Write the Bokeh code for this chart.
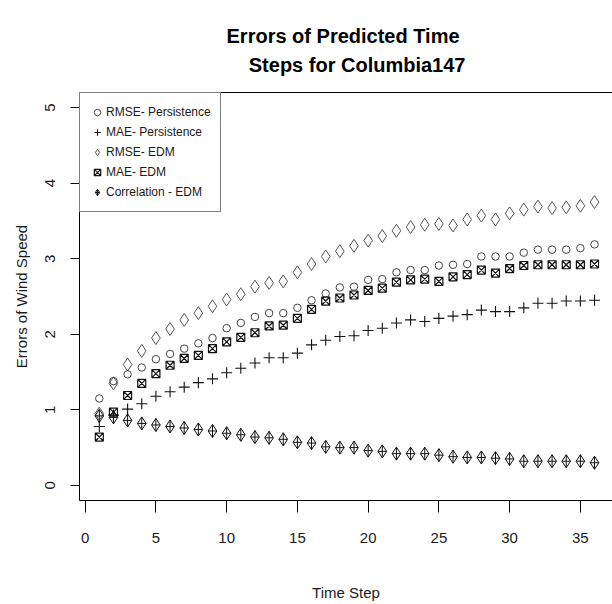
from bokeh.plotting import figure
from bokeh.models import (Legend, LegendItem, FixedTicker, LinearAxis, Title,
                          Range1d, ColumnDataSource)
from bokeh.embed import file_html
from bokeh.resources import INLINE

time_step = list(range(1, 37))
rmse_persistence = [1.15, 1.38, 1.47, 1.56, 1.67, 1.74, 1.81, 1.88, 1.95, 2.08, 2.15, 2.23,
                    2.28, 2.28, 2.35, 2.45, 2.54, 2.62, 2.63, 2.72, 2.73, 2.82, 2.85, 2.85,
                    2.91, 2.92, 2.93, 3.03, 3.03, 3.03, 3.08, 3.12, 3.12, 3.12, 3.14, 3.19]
mae_persistence = [0.78, 0.93, 1.01, 1.08, 1.18, 1.24, 1.30, 1.36, 1.41, 1.49, 1.55, 1.62,
                   1.69, 1.69, 1.75, 1.86, 1.92, 1.97, 1.98, 2.05, 2.08, 2.15, 2.19, 2.17,
                   2.21, 2.24, 2.26, 2.32, 2.30, 2.30, 2.35, 2.41, 2.41, 2.44, 2.44, 2.45]
rmse_edm = [0.95, 1.35, 1.60, 1.78, 1.95, 2.07, 2.19, 2.28, 2.37, 2.46, 2.53, 2.63,
            2.68, 2.70, 2.82, 2.93, 3.03, 3.10, 3.17, 3.24, 3.30, 3.37, 3.42, 3.45,
            3.46, 3.44, 3.52, 3.57, 3.52, 3.60, 3.65, 3.69, 3.67, 3.68, 3.70, 3.75]
mae_edm = [0.64, 0.97, 1.19, 1.35, 1.48, 1.59, 1.68, 1.72, 1.81, 1.90, 1.96, 2.02,
           2.11, 2.12, 2.21, 2.33, 2.44, 2.48, 2.52, 2.58, 2.61, 2.69, 2.72, 2.73,
           2.70, 2.76, 2.79, 2.85, 2.81, 2.87, 2.91, 2.92, 2.92, 2.92, 2.92, 2.93]
corr_edm = [0.92, 0.90, 0.86, 0.82, 0.80, 0.78, 0.76, 0.74, 0.72, 0.69, 0.67, 0.64,
            0.63, 0.61, 0.57, 0.56, 0.51, 0.50, 0.50, 0.46, 0.45, 0.42, 0.42, 0.42,
            0.40, 0.38, 0.37, 0.37, 0.36, 0.35, 0.32, 0.32, 0.32, 0.32, 0.32, 0.30]
series_labels = ["RMSE- Persistence", "MAE- Persistence", "RMSE- EDM", "MAE- EDM",
                 "Correlation - EDM"]
x_ticks = [0, 5, 10, 15, 20, 25, 30, 35]
y_ticks = [0, 1, 2, 3, 4, 5]
title_lines = ["Errors of Predicted Time", "\u00a0\u00a0\u00a0\u00a0Steps for Columbia147"]

FONT = "Liberation Sans"

src = ColumnDataSource(dict(t=time_step, rp=rmse_persistence, mp=mae_persistence,
                            re=rmse_edm, me=mae_edm, ce=corr_edm))

p = figure(width=612, height=604, output_backend="svg", toolbar_location=None,
           title=None, x_range=Range1d(-0.4, 37.27), y_range=Range1d(-0.2, 5.2),
           min_border_left=79, min_border_right=0, min_border_top=92,
           min_border_bottom=104)
p.grid.visible = False
p.outline_line_color = None
p.background_fill_color = "white"
p.border_fill_color = "white"

for ax in (p.xaxis[0], p.yaxis[0]):
    ax.axis_line_color = "black"
    ax.major_tick_line_color = "black"
    ax.minor_tick_line_color = None
    ax.major_tick_in = 0
    ax.major_label_text_font = FONT
    ax.major_label_text_font_size = "15px"
    ax.major_label_text_color = "#1a1a1a"
    ax.axis_label_text_font = FONT
    ax.axis_label_text_font_size = "15px"
    ax.axis_label_text_font_style = "normal"
    ax.axis_label_text_color = "#1a1a1a"

p.xaxis.ticker = FixedTicker(ticks=x_ticks)
p.xaxis.major_tick_out = 12
p.xaxis.major_label_standoff = 20
p.xaxis.axis_label = "Time Step"
p.xaxis.axis_label_standoff = 38

p.yaxis.ticker = FixedTicker(ticks=y_ticks)
p.yaxis.major_tick_out = 9
p.yaxis.major_label_orientation = "vertical"
p.yaxis.major_label_standoff = 15
p.yaxis.axis_label = "Errors of Wind Speed"
p.yaxis.axis_label_standoff = 13

# top edge of the box (no ticks)
top_axis = LinearAxis(ticker=FixedTicker(ticks=[]), axis_line_color="black",
                      major_tick_out=0, major_tick_in=0, minor_tick_out=0,
                      minor_tick_in=0, major_label_standoff=0,
                      major_tick_line_color=None, minor_tick_line_color=None,
                      major_label_text_font_size="0px")
p.add_layout(top_axis, "above")

title = Title(text="\n".join(title_lines), align="center", text_font=FONT,
              text_font_size="20px", text_font_style="bold", text_color="black",
              text_line_height=1.35, standoff=32)
p.add_layout(title, "above")

r1 = p.scatter("t", "rp", source=src, marker="circle", size=7.5, fill_color=None,
               line_color="#444", line_width=1)
r2 = p.scatter("t", "mp", source=src, marker="cross", size=11, line_color="#111",
               line_width=1.1)
r3 = p.scatter("t", "re", source=src, marker="diamond", size=13, fill_color=None,
               line_color="#555", line_width=1)
r4 = p.scatter("t", "me", source=src, marker="square_x", size=8, fill_color=None,
               line_color="#111", line_width=1.2)
r5 = p.scatter("t", "ce", source=src, marker="diamond_cross", size=13, fill_color=None,
               line_color="#111", line_width=1)

legend = Legend(items=[LegendItem(label=lbl, renderers=[r])
                       for lbl, r in zip(series_labels, [r1, r2, r3, r4, r5])],
                location="top_left", margin=0, border_line_color="black",
                border_line_width=1, padding=9, spacing=0, glyph_width=16,
                glyph_height=20, label_height=20, label_standoff=1,
                label_text_font=FONT, label_text_font_size="12px",
                label_text_color="#1a1a1a", background_fill_alpha=1.0)
p.add_layout(legend)

open("out.html", "w").write(file_html(p, INLINE))
